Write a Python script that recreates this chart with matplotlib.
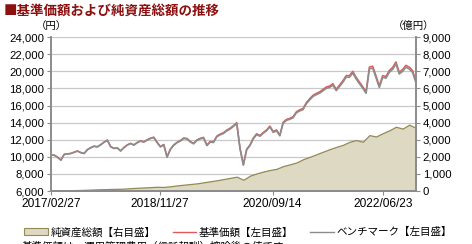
import matplotlib
matplotlib.use("Agg")
import matplotlib.pyplot as plt
from matplotlib.patches import Patch
from matplotlib.lines import Line2D
import pandas as pd

# 基準価額 (円) at evenly spaced points
nav = [10200, 10200, 9950, 9620, 10300, 10350, 10400, 10550, 10680, 10500,
       10400, 10850, 11080, 11250, 11180, 11430, 11720, 11960, 11200, 11000,
       11050, 10700, 11100, 11400, 11580, 11400, 11680, 11870, 11760, 12000,
       12180, 12300, 11700, 11200, 11450, 10000, 10900, 11400, 11700, 11900,
       12200, 12150, 11800, 11580, 11980, 12170, 12280, 11380, 11800, 11760,
       12430, 12660, 12820, 13130, 13350, 13650, 14000, 11000, 9100, 10900,
       11400, 12200, 12700, 12500, 12850, 13150, 13600, 12950, 13150, 12550,
       14050, 14380, 14500, 14690, 15280, 15500, 15650, 16350, 16800, 17200,
       17420, 17600, 17880, 18170, 18280, 18550, 17900, 18400, 18900, 19500,
       19500, 20000, 19300, 18750, 18200, 17610, 20500, 20600, 19450, 18300,
       19500, 19400, 20100, 20450, 21100, 19900, 20200, 20700, 20500, 20100,
       18900]

# ベンチマーク (円)
bench = [10200, 10190, 9940, 9610, 10290, 10340, 10390, 10540, 10670, 10490,
         10390, 10840, 11060, 11230, 11160, 11410, 11700, 11930, 11180, 10980,
         11030, 10680, 11080, 11370, 11550, 11370, 11650, 11840, 11720, 11960,
         12140, 12250, 11660, 11160, 11410, 9960, 10860, 11350, 11650, 11850,
         12140, 12090, 11740, 11520, 11910, 12100, 12200, 11310, 11720, 11680,
         12350, 12570, 12730, 13040, 13250, 13550, 13900, 10920, 9030, 10820,
         11320, 12110, 12600, 12410, 12760, 13050, 13500, 12860, 13040, 12460,
         13940, 14270, 14390, 14570, 15160, 15370, 15520, 16220, 16660, 17060,
         17270, 17450, 17720, 18010, 18110, 18380, 17740, 18230, 18720, 19310,
         19310, 19800, 19110, 18560, 18020, 17430, 20290, 20380, 19250, 18110,
         19300, 19200, 19880, 20230, 20870, 19690, 19990, 20480, 20270, 19880,
         18700]

# 純資産総額 (億円)
assets = [20, 30, 40, 50, 60, 70, 85, 100, 110, 120,
          130, 140, 170, 190, 210, 230, 250, 240, 280, 330,
          370, 410, 450, 510, 570, 630, 700, 770, 840, 660,
          900, 1030, 1140, 1230, 1300, 1460, 1560, 1670, 1860, 2000,
          2150, 2300, 2450, 2580, 2700, 2880, 2980, 2880, 3270, 3190,
          3380, 3550, 3760, 3650, 3880, 3700]

start, end = "2017-02-27", "2022-12-30"
tick_dates = ["2017/02/27", "2018/11/27", "2020/09/14", "2022/06/23"]

jp = ["Noto Sans CJK JP", "DejaVu Sans"]
num = ["Liberation Sans", "DejaVu Sans"]

nav_dates = pd.date_range(start, end, periods=len(nav))
bench_dates = pd.date_range(start, end, periods=len(bench))
asset_dates = pd.date_range(start, end, periods=len(assets))

fig = plt.figure(figsize=(4.72, 2.44), dpi=100)
ax = fig.add_axes([0.108, 0.217, 0.773, 0.631])
ax2 = ax.twinx()
ax.set_zorder(2)
ax2.set_zorder(1)
ax.patch.set_visible(False)

# area (right scale)
ax2.fill_between(asset_dates, assets, 0, facecolor="#DDD9C3", edgecolor="#948A54",
                 linewidth=0.9, zorder=2)
ax2.set_ylim(0, 9000)
ax2.set_yticks(range(0, 9001, 1000))
ax2.set_yticklabels([f"{v:,}" for v in range(0, 9001, 1000)])
ax2.grid(axis="y", color="#C8C8C8", linewidth=0.9, zorder=0)
ax2.set_axisbelow(True)

# lines (left scale)
ax.plot(nav_dates, nav, color="#E05A5A", linewidth=1.1)
ax.plot(bench_dates, bench, color="#8C8C8C", linewidth=1.2)
ax.set_ylim(6000, 24000)
ax.set_yticks(range(6000, 24001, 2000))
ax.set_yticklabels([f"{v:,}" for v in range(6000, 24001, 2000)])

ax.set_xlim(pd.Timestamp(start), pd.Timestamp(end))
ax.set_xticks(pd.to_datetime(tick_dates, format="%Y/%m/%d"))
ax.set_xticklabels(tick_dates)

for a in (ax, ax2):
    for s in a.spines.values():
        s.set_color("#8C8C8C")
        s.set_linewidth(1.2)
    a.spines["top"].set_visible(False)
    a.tick_params(length=3, width=0.8, color="#8C8C8C", pad=2)
    for lab in a.get_yticklabels() + a.get_xticklabels():
        lab.set_family(num)
        lab.set_fontsize(8.2)

ax.tick_params(axis="x", labelsize=8.6, pad=2)
for lab in ax.get_xticklabels():
    lab.set_family(num)

fig.text(0.008, 0.955, "■基準価額および純資産総額の推移", family=jp, fontsize=9.7,
         fontweight="bold", color="#8B1010", va="center")
fig.text(0.108, 0.893, "（円）", family=jp, fontsize=7.5, ha="center", va="center")
fig.text(0.877, 0.893, "（億円）", family=jp, fontsize=7.5, ha="center", va="center")

handles = [Patch(facecolor="#DDD9C3", edgecolor="#948A54", linewidth=0.8),
           Line2D([], [], color="#E05A5A", linewidth=1.0),
           Line2D([], [], color="#8C8C8C", linewidth=1.0)]
labels = ["純資産総額【右目盛】", "基準価額【左目盛】", "ベンチマーク【左目盛】"]
fig.legend(handles, labels, loc="center", bbox_to_anchor=(0.505, 0.048), ncol=3,
           frameon=False, prop={"family": jp, "size": 7.6}, handlelength=2.2,
           handleheight=0.6, handletextpad=0.3, columnspacing=1.6)

# footnote, partly below the bottom edge as in the original
fig.text(0.045, -0.008, "基準価額は、運用管理費用（信託報酬）控除後の値です。", family=jp,
         fontsize=7.6, va="center")

fig.savefig("out.png", dpi=100)
